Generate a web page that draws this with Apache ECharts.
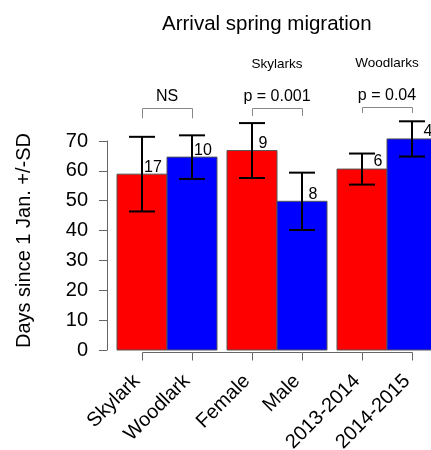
<!DOCTYPE html>
<html><head><meta charset="utf-8">
<script src="https://cdn.jsdelivr.net/npm/echarts@6/dist/echarts.min.js"></script>
<style>html,body{margin:0;padding:0;background:#fff}#c{width:431px;height:450px}</style>
</head><body><div id="c"></div>
<script>
// ---- data ----
const categories = ['Skylark', 'Woodlark', 'Female', 'Male', '2013-2014', '2014-2015'];
const means = [58.9, 64.6, 66.8, 49.8, 60.6, 70.7];
const sds = [12.5, 7.3, 9.2, 9.6, 5.2, 5.9];
const sampleSizes = ['17', '10', '9', '8', '6', '4'];
const testLabels = ['NS', 'p = 0.001', 'p = 0.04'];
const groupTitles = ['', 'Skylarks', 'Woodlarks'];
const bracketTop = [81.1, 81.1, 81.4];
const bracketLeg = [77.6, 78.4, 79.4];
const yTicks = [0, 10, 20, 30, 40, 50, 60, 70];

// ---- style ----
const FONT = '"Liberation Sans", Arial, Helvetica, sans-serif';
const barColors = ['#FF0000', '#0000FF'];
const labelDx = [11, 11, 11, 11, 16, 16];

function center(i) { const g = Math.floor(i / 2), j = i % 2; return 0.2 + g * 2.2 + j + 0.5; }

const chart = echarts.init(document.getElementById('c'), null, { renderer: 'canvas' });
const idx = categories.map((_, i) => i);

chart.setOption({
  animation: false,
  backgroundColor: '#fff',
  title: {
    text: 'Arrival spring migration', left: 157, top: 9,
    textStyle: { fontSize: 20.5, fontWeight: 'normal', color: '#000', fontFamily: FONT }
  },
  grid: { left: 104, right: 0, top: 141, bottom: 100 },
  xAxis: { type: 'value', min: -0.06, max: 6.48, show: false },
  yAxis: {
    type: 'value', min: yTicks[0], max: yTicks[yTicks.length - 1], interval: 10,
    splitLine: { show: false },
    axisLine: { show: true, lineStyle: { color: '#666', width: 1 } },
    axisTick: { show: true, length: 8, lineStyle: { color: '#666' } },
    axisLabel: { fontSize: 20, color: '#000', margin: 16, fontFamily: FONT },
    name: 'Days since 1 Jan. +/-SD', nameLocation: 'middle', nameRotate: 90, nameGap: 70,
    nameTextStyle: { fontSize: 20, color: '#000', fontFamily: FONT, padding: [0, 0, 0, 10] }
  },
  series: [
    {
      type: 'custom', clip: false, z: 2,
      data: idx.map(i => [i, means[i]]),
      renderItem: function (params, api) {
        const i = api.value(0), c = center(i);
        const p0 = api.coord([c - 0.5, 0]);
        const p1 = api.coord([c + 0.5, api.value(1)]);
        return {
          type: 'rect',
          shape: { x: p0[0], y: p1[1], width: p1[0] - p0[0], height: p0[1] - p1[1] },
          style: { fill: barColors[i % 2], stroke: '#555', lineWidth: 1 }
        };
      }
    },
    {
      type: 'custom', clip: false, z: 3,
      data: idx.map(i => [i, means[i], sds[i]]),
      renderItem: function (params, api) {
        const i = api.value(0), c = center(i), m = api.value(1), s = api.value(2);
        const hi = api.coord([c, m + s]), lo = api.coord([c, m - s]), top = api.coord([c, m]);
        const x = Math.round(hi[0]);
        const st = { stroke: '#000', lineWidth: 2 };
        return {
          type: 'group', children: [
            { type: 'line', shape: { x1: x, y1: hi[1], x2: x, y2: lo[1] }, style: st },
            { type: 'line', shape: { x1: x - 13, y1: hi[1], x2: x + 13, y2: hi[1] }, style: st },
            { type: 'line', shape: { x1: x - 13, y1: lo[1], x2: x + 13, y2: lo[1] }, style: st },
            { type: 'text', x: top[0] + labelDx[i], y: top[1] - 7,
              style: { text: sampleSizes[i], fontSize: 16, fontFamily: FONT, fill: '#000', align: 'center', verticalAlign: 'middle' } }
          ]
        };
      }
    },
    {
      type: 'custom', clip: false, z: 3,
      data: idx.map(i => [i]),
      renderItem: function (params, api) {
        const i = api.value(0), c = center(i);
        const p = api.coord([c, 0]);
        const x = Math.round(p[0]) + 0.5, y = Math.round(p[1]) + 2.5;
        const st = { stroke: '#666', lineWidth: 1 };
        const ch = [
          { type: 'line', shape: { x1: x, y1: y, x2: x, y2: y + 8 }, style: st },
          { type: 'text', x: p[0] - 5, y: p[1] + 28, rotation: Math.PI / 4,
            style: { text: categories[i], fontSize: 20, fontFamily: FONT, fill: '#000', align: 'right', verticalAlign: 'middle' } }
        ];
        if (i < categories.length - 1) {
          const pn = api.coord([center(i + 1), 0]);
          ch.push({ type: 'line', shape: { x1: x, y1: y, x2: Math.round(pn[0]) + 0.5, y2: y }, style: st });
        }
        return { type: 'group', children: ch };
      }
    },
    {
      type: 'custom', clip: false, z: 3,
      data: testLabels.map((t, g) => [g, bracketTop[g], bracketLeg[g]]),
      renderItem: function (params, api) {
        const g = api.value(0);
        const a = api.coord([center(2 * g), api.value(1)]);
        const b = api.coord([center(2 * g + 1), api.value(1)]);
        const la = api.coord([center(2 * g), api.value(2)]);
        const xa = Math.round(a[0]) + 0.5, xb = Math.round(b[0]) + 0.5, yt = Math.round(a[1]) + 0.5;
        const cx = (a[0] + b[0]) / 2;
        const ch = [
          { type: 'polyline', shape: { points: [[xa, la[1]], [xa, yt], [xb, yt], [xb, la[1]]] }, style: { stroke: '#888', lineWidth: 1, fill: null } },
          { type: 'text', x: cx, y: a[1] - 11,
            style: { text: testLabels[g], fontSize: 16, fontFamily: FONT, fill: '#000', align: 'center', verticalAlign: 'middle' } }
        ];
        if (groupTitles[g]) {
          ch.push({ type: 'text', x: cx, y: a[1] - 43.5,
            style: { text: groupTitles[g], fontSize: 13.5, fontFamily: FONT, fill: '#000', align: 'center', verticalAlign: 'middle' } });
        }
        return { type: 'group', children: ch };
      }
    }
  ]
});
</script>
</body></html>
